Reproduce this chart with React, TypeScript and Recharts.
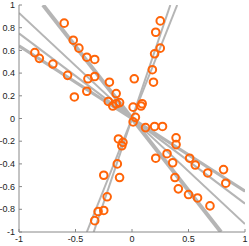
import React from "react";
import { ComposedChart, Scatter, XAxis, YAxis, ReferenceLine } from "recharts";

// data
const pointX = [
  -0.6, -0.52, -0.47, -0.86, -0.82, -0.7, -0.4, -0.33, -0.57, -0.39, -0.33, -0.2, -0.51, -0.4, -0.14, -0.21, -0.17, -0.14, -0.11,
  0.25, 0.21, 0.25, 0.2, 0.18, 0.02, 0.19, 0.09, 0.08, 0.01, 0.03, 0.01,
  0.12, 0.2, 0.27, 0.39, 0.39, 0.31, 0.21, 0.36, 0.51, 0.56, 0.81, 0.67, 0.83, 0.38, 0.41, 0.5, 0.58, 0.69,
  -0.12, -0.08, -0.09, -0.13, -0.25, -0.11, -0.22, -0.25, -0.3, -0.33,
];
const pointY = [
  0.84, 0.69, 0.62, 0.58, 0.53, 0.48, 0.54, 0.52, 0.38, 0.35, 0.37, 0.32, 0.19, 0.24, 0.22, 0.15, 0.11, 0.13, 0.14,
  0.86, 0.76, 0.62, 0.57, 0.43, 0.35, 0.32, 0.13, 0.11, 0.1, 0.01, -0.03,
  -0.08, -0.07, -0.07, -0.17, -0.23, -0.31, -0.35, -0.39, -0.35, -0.41, -0.45, -0.48, -0.57, -0.52, -0.62, -0.67, -0.7, -0.77,
  -0.18, -0.21, -0.24, -0.4, -0.5, -0.52, -0.69, -0.81, -0.82, -0.9,
];

// fitted lines through the origin
const lineSlopes = [-1.27, -0.93, -0.75, -0.64, 2.95, 2.5];
const lineWidths = [4, 2, 2, 3, 2, 2];

const xTicks = [-1, -0.5, 0, 0.5, 1];
const yTicks = [-1, -0.8, -0.6, -0.4, -0.2, 0, 0.2, 0.4, 0.6, 0.8, 1];

const points = pointX.map((x, i) => ({ x, y: pointY[i] }));

// clip y = m*x to the [-1,1] box
function segmentFor(m: number) {
  const xe = Math.min(1, 1 / Math.abs(m));
  return [
    { x: -xe, y: -m * xe },
    { x: xe, y: m * xe },
  ];
}

const Ring = (props: any) => {
  const { cx, cy } = props;
  return <circle cx={cx} cy={cy} r={3.8} fill="none" stroke="#ff6408" strokeWidth={2} />;
};

const tickStyle = { fontSize: 9, fill: "#222", fontFamily: "'Liberation Sans', Arial, sans-serif" };

export default function App() {
  return (
    <div style={{ position: "absolute", left: 0, top: 0, background: "#fff" }}>
      <ComposedChart width={249} height={246} data={points} margin={{ top: 5, right: 4, left: 0, bottom: 0 }}>
        <XAxis
          type="number"
          dataKey="x"
          domain={[-1, 1]}
          ticks={xTicks}
          height={14}
          tick={tickStyle}
          tickSize={-3}
          tickMargin={7}
          stroke="#888"
          tickLine={{ stroke: "#888" }}
          allowDataOverflow
        />
        <YAxis
          type="number"
          dataKey="y"
          domain={[-1, 1]}
          ticks={yTicks}
          width={19}
          tick={tickStyle}
          tickSize={-3}
          tickMargin={7}
          stroke="#888"
          tickLine={{ stroke: "#888" }}
          allowDataOverflow
        />
        {lineSlopes.map((m, i) => (
          <ReferenceLine key={i} segment={segmentFor(m)} stroke="#b5b5b5" strokeWidth={lineWidths[i]} ifOverflow="hidden" />
        ))}
        <Scatter data={points} dataKey="y" shape={<Ring />} isAnimationActive={false} />
      </ComposedChart>
    </div>
  );
}
